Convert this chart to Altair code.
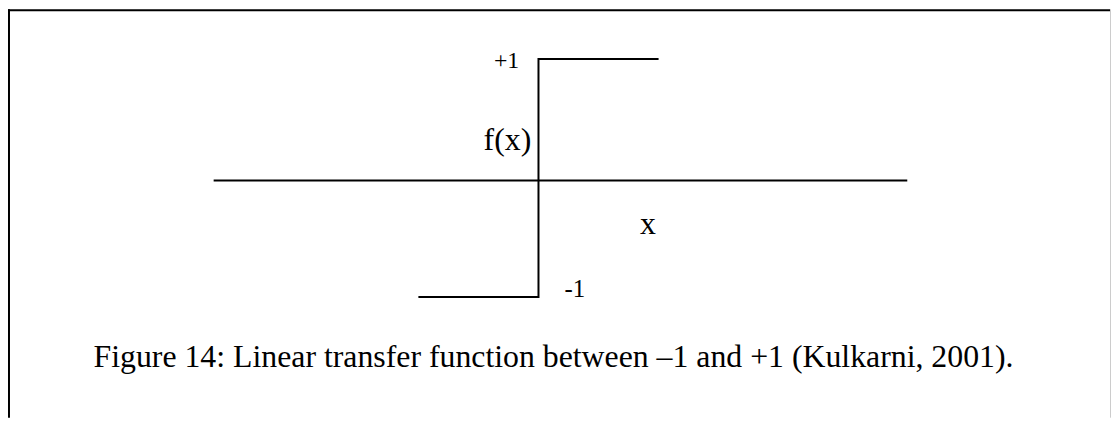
import altair as alt
import pandas as pd

# ---- data (units: x step length = 1, f(x) in [-1, +1]) ----
step_x = [-1.0, 0.0, 0.0, 1.0]
step_y = [-1.0, -1.0, 1.0, 1.0]
axis_x = [-2.705, 3.071]
axis_y = [-0.021, -0.021]
labels = ["+1", "f(x)", "x", "-1"]
caption = "Figure 14: Linear transfer function between \u20131 and +1 (Kulkarni, 2001)."

W, H = 1110, 411
FONT = "Liberation Serif"

xs = alt.Scale(domain=[-1, 1], range=[413, 654.7], zero=False, nice=False)
ys = alt.Scale(domain=[-1, 1], range=[289.5, 50], zero=False, nice=False)

step_df = pd.DataFrame({"x": step_x, "y": step_y, "i": range(len(step_x))})
axis_df = pd.DataFrame({"x": axis_x, "y": axis_y, "i": range(len(axis_x))})

def line_layer(df):
    return alt.Chart(df).mark_line(color="black", strokeWidth=2, strokeJoin="miter", strokeCap="butt").encode(
        x=alt.X("x:Q", scale=xs, axis=None),
        y=alt.Y("y:Q", scale=ys, axis=None),
        order="i:O",
    )

# annotation placement (in data units) and styles
ann = [
    (labels[0], -0.160, 0.925, 24, "right"),
    (labels[1], -0.060, 0.232, 32, "right"),
    (labels[2], 0.911, -0.470, 32, "center"),
    (labels[3], 0.216, -0.998, 25, "left"),
    (caption, 0.125, -1.589, 32, "center"),
]
text_layers = []
for t, ux, vy, fs, al in ann:
    df = pd.DataFrame({"x": [ux], "y": [vy], "t": [t]})
    text_layers.append(
        alt.Chart(df).mark_text(font=FONT, fontSize=fs, align=al, baseline="alphabetic", color="black").encode(
            x=alt.X("x:Q", scale=xs, axis=None),
            y=alt.Y("y:Q", scale=ys, axis=None),
            text="t:N",
        )
    )

# page frame
frame_df = pd.DataFrame({"a": [0]})
frame_left = alt.Chart(frame_df).mark_rule(color="black", strokeWidth=2).encode(
    x=alt.value(1), y=alt.value(0), y2=alt.value(H))
frame_top = alt.Chart(frame_df).mark_rule(color="black", strokeWidth=2).encode(
    x=alt.value(0), x2=alt.value(1109), y=alt.value(1))
frame_right = alt.Chart(frame_df).mark_rule(color="#cccccc", strokeWidth=1).encode(
    x=alt.value(1109.5), y=alt.value(0), y2=alt.value(H))

chart = alt.layer(
    frame_left, frame_top, frame_right,
    line_layer(axis_df), line_layer(step_df), *text_layers
).properties(
    width=W, height=H, padding=0, autosize=alt.AutoSizeParams(type="none")
).configure_view(stroke=None).resolve_scale(x="shared", y="shared")

chart.save("out.html", embed_options={"renderer": "svg", "actions": False})
